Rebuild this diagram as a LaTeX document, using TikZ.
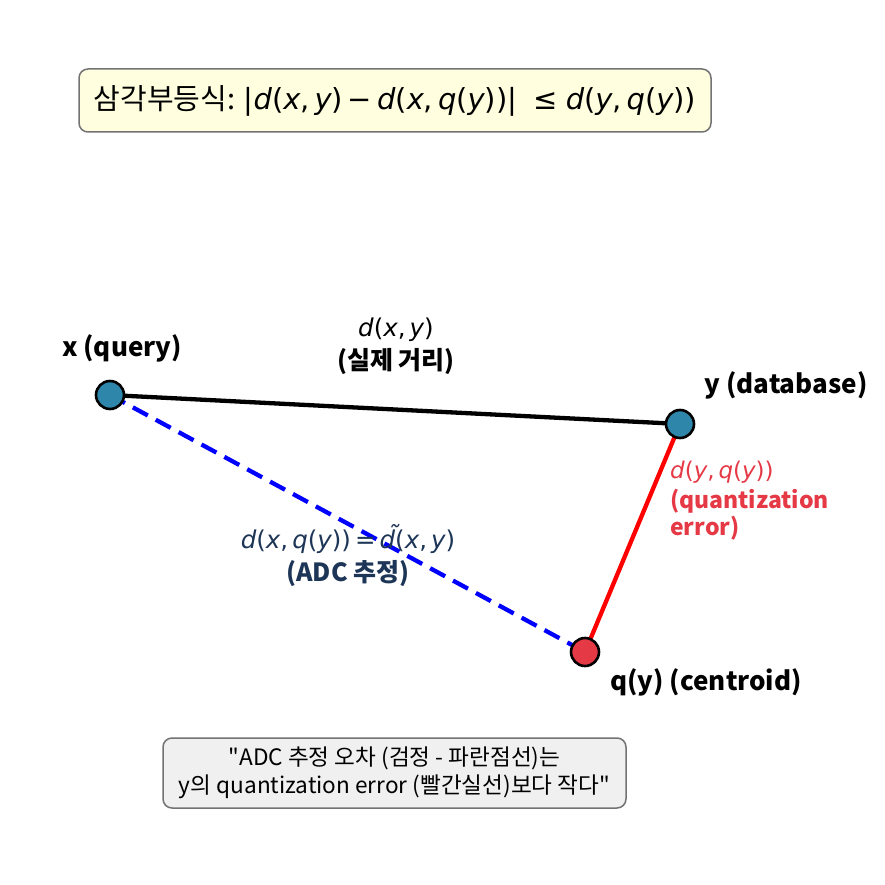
\documentclass[tikz,border=0pt]{standalone}
\usepackage{fontspec}
\setmainfont{Noto Sans CJK KR}
\newfontfamily\plainq{Noto Sans CJK KR}
\newfontfamily\dvs{DejaVu Sans}
\usetikzlibrary{backgrounds}
\definecolor{nodeblue}{HTML}{2E86AB}
\definecolor{nodered}{HTML}{E63946}
\definecolor{navy}{HTML}{1D3557}
\definecolor{boxyellow}{HTML}{FFFFE0}
\definecolor{boxgray}{HTML}{F0F0F0}
\newcommand{\mvar}[1]{{\dvs\itshape #1}}
\newcommand{\mpun}[1]{{\dvs #1}}
\newcommand{\qq}{{\plainq"}}
\newcommand{\dtilde}{{\dvs\itshape\rlap{\hspace{0.3em}\raisebox{0.2em}{˜}}d}}
\tikzset{
  pt/.style={circle, draw=black, line width=2.6pt, minimum size=28pt, inner sep=0pt},
  ptlabel/.style={font=\bfseries\fontsize{26}{30}\selectfont, inner sep=0pt},
  infobox/.style={draw=gray!90!black, line width=1.5pt, rounded corners=9pt, inner sep=0pt},
  elabel/.style={font=\fontsize{24.5}{28}\selectfont, inner sep=0pt},
  elabelb/.style={font=\bfseries\fontsize{25}{28}\selectfont, inner sep=0pt},
  rlabel/.style={font=\fontsize{23}{27}\selectfont, text=nodered, inner sep=0pt, anchor=west},
  rlabelb/.style={font=\bfseries\fontsize{23}{27}\selectfont, text=nodered, inner sep=0pt, anchor=west},
  edgeline/.style={line width=4.3pt},
}
\begin{document}
\begin{tikzpicture}[x=1pt,y=-1pt]
\useasboundingbox (0,0) rectangle (884,885);
% points
\node[pt, fill=nodeblue] (x) at (110,395) {};
\node[pt, fill=nodeblue] (y) at (680,424) {};
\node[pt, fill=nodered] (q) at (585,652) {};
\begin{pgfonlayer}{background}
\fill[white] (0,0) rectangle (884,885);
\draw[edgeline, black] (x.center) -- (y.center);
\draw[edgeline, red] (y.center) -- (q.center);
\draw[edgeline, blue, dash pattern=on 17pt off 9pt] (x.center) -- (q.center);
\end{pgfonlayer}
% point labels
\node[ptlabel] (lx) at (122,348) {x (query)};
\node[ptlabel] (ly) at (786,385) {y (database)};
\node[ptlabel] (lq) at (706,682) {q(y) (centroid)};
% edge labels
\node[elabel] (e1) at (396,330)
  {\mvar{d}\mpun{(}\mvar{x}\mpun{,\,}\mvar{y}\mpun{)}};
\node[elabelb] (e1b) at (396,361) {(실제 거리)};
\node[elabel, text=navy] (e2) at (348,539)
  {\mvar{d}\mpun{(}\mvar{x}\mpun{,\,}\mvar{q}\mpun{(}\mvar{y}\mpun{))\,=\,}\dtilde\mpun{(}\mvar{x}\mpun{,\,}\mvar{y}\mpun{)}};
\node[elabelb, text=navy] (e2b) at (348,574) {(ADC 추정)};
\node[rlabel] (e3) at (670,472)
  {\mvar{d}\mpun{(}\mvar{y}\mpun{,\,}\mvar{q}\mpun{(}\mvar{y}\mpun{))}};
\node[rlabelb] (e3b) at (670,501) {(quantization};
\node[rlabelb] (e3c) at (670,528) {error)};
% top box
\draw[infobox, fill=boxyellow] (79,69) rectangle (711,132);
\node[font=\fontsize{29}{33}\selectfont, inner sep=0pt] (title) at (395,101)
  {삼각부등식: \mpun{|}\mvar{d}\mpun{(}\mvar{x}\mpun{,\,}\mvar{y}\mpun{)\,−\,}\mvar{d}\mpun{(}\mvar{x}\mpun{,\,}\mvar{q}\mpun{(}\mvar{y}\mpun{))|\;\;≤\;}\mvar{d}\mpun{(}\mvar{y}\mpun{,\,}\mvar{q}\mpun{(}\mvar{y}\mpun{))}};
% bottom box
\draw[infobox, fill=boxgray] (163,738) rectangle (626,808);
\node[font=\fontsize{22.6}{28}\selectfont, align=center, inner sep=0pt] (note) at (394.5,773)
  {\qq ADC 추정 오차 (검정 - 파란점선)는\\y의 quantization error (빨간실선)보다 작다\qq};
\end{tikzpicture}
\end{document}
